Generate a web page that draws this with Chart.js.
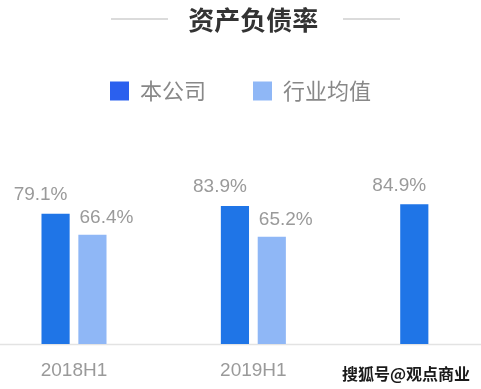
<!DOCTYPE html>
<html>
<head>
<meta charset="utf-8">
<script src="https://cdn.jsdelivr.net/npm/chart.js@4"></script>
<style>
  html, body { margin: 0; padding: 0; background: #fff; }
  #wrap { width: 481px; height: 389px; }
</style>
</head>
<body>
<div id="wrap"><canvas id="debtChart" width="481" height="389"></canvas></div>
<script>
// 资产负债率 data
const periods = ['2018H1', '2019H1', '2020H1'];
const companyRatio = [79.1, 83.9, 84.9];
const industryRatio = [66.4, 65.2, null];
const seriesNames = ['本公司', '行业均值'];

const FONT = '"Liberation Sans", "Noto Sans CJK SC", sans-serif';
const CJK = '"Noto Sans CJK SC", sans-serif';
const legendColors = ['#2b60ee', '#8fb7f6'];

// title side lines, baseline, value labels, watermark
const decorPlugin = {
    id: 'decor',
    beforeDatasetsDraw(chart) {
        const ctx = chart.ctx;
        const y0 = chart.scales.y.getPixelForValue(0);
        ctx.save();
        ctx.strokeStyle = '#e3e3e3';
        ctx.lineWidth = 1.5;
        ctx.beginPath();
        ctx.moveTo(0, y0 + 0.5);
        ctx.lineTo(chart.width, y0 + 0.5);
        ctx.stroke();
        ctx.restore();
    },
    afterDraw(chart) {
        const ctx = chart.ctx;
        ctx.save();
        // lines next to the title
        ctx.strokeStyle = '#cfcfcf';
        ctx.lineWidth = 1.5;
        ctx.beginPath();
        ctx.moveTo(111, 19); ctx.lineTo(168, 19);
        ctx.moveTo(343, 19); ctx.lineTo(400, 19);
        ctx.stroke();

        // value labels
        ctx.font = '19px ' + FONT;
        ctx.fillStyle = '#9a9a9a';
        ctx.textAlign = 'center';
        ctx.textBaseline = 'middle';
        chart.data.datasets.forEach((ds, di) => {
            const meta = chart.getDatasetMeta(di);
            meta.data.forEach((bar, i) => {
                const v = ds.data[i];
                if (v === null || v === undefined) return;
                const dx = di === 0 ? -15 : 14;
                const dy = di === 0 ? -19 : -17;
                ctx.fillText(v.toFixed(1) + '%', bar.x + dx, bar.y + dy);
            });
        });

        // watermark
        ctx.font = 'bold 16px ' + CJK;
        ctx.textAlign = 'left';
        ctx.textBaseline = 'middle';
        ctx.lineJoin = 'round';
        ctx.strokeStyle = '#ffffff';
        ctx.lineWidth = 5;
        ctx.strokeText('搜狐号@观点商业', 342, 374);
        ctx.fillStyle = '#1a1a1a';
        ctx.fillText('搜狐号@观点商业', 342, 374);
        ctx.restore();
    }
};

const ctx = document.getElementById('debtChart').getContext('2d');
new Chart(ctx, {
    type: 'bar',
    data: {
        labels: periods,
        datasets: [
            {
                label: seriesNames[0],
                data: companyRatio,
                backgroundColor: '#1f75e7',
                borderWidth: 0,
                categoryPercentage: 0.411,
                barPercentage: 0.764,
                clip: false
            },
            {
                label: seriesNames[1],
                data: industryRatio,
                backgroundColor: '#8fb7f6',
                borderWidth: 0,
                categoryPercentage: 0.411,
                barPercentage: 0.764,
                clip: false
            }
        ]
    },
    options: {
        responsive: false,
        animation: false,
        layout: {
            padding: { left: 0, right: 0, top: 0, bottom: 7 }
        },
        plugins: {
            title: {
                display: true,
                fullSize: false,
                text: '资产负债率',
                color: '#333',
                font: { family: CJK, size: 26, weight: 'bold', lineHeight: 1 },
                padding: { top: 7, bottom: 0 }
            },
            legend: {
                position: 'top',
                labels: {
                    boxWidth: 19,
                    boxHeight: 19,
                    padding: 47,
                    color: '#888',
                    font: { family: CJK, size: 22 },
                    generateLabels(chart) {
                        const items = Chart.defaults.plugins.legend.labels.generateLabels(chart);
                        items.forEach((item, i) => {
                            item.fillStyle = legendColors[i];
                            item.lineWidth = 0;
                        });
                        return items;
                    }
                }
            },
            tooltip: { enabled: false }
        },
        scales: {
            x: {
                offset: false,
                grid: { display: false, offset: false, drawTicks: false },
                border: { display: false },
                ticks: {
                    // last label sits under the watermark in the picture
                    color: (c) => c.index === periods.length - 1 ? 'rgba(0,0,0,0)' : '#9a9a9a',
                    padding: 15,
                    maxRotation: 0,
                    font: { family: FONT, size: 19 }
                },
                afterFit(scale) { scale.height = 38; }
            },
            y: {
                display: true,
                min: 0,
                max: 141,
                grid: { display: false, drawTicks: false },
                border: { display: false },
                ticks: { display: false },
                afterFit(scale) { scale.width = 74; }
            },
            yRight: {
                position: 'right',
                display: true,
                grid: { display: false, drawTicks: false },
                border: { display: false },
                ticks: { display: false },
                afterFit(scale) { scale.width = 45; }
            }
        }
    },
    plugins: [decorPlugin]
});
</script>
</body>
</html>
